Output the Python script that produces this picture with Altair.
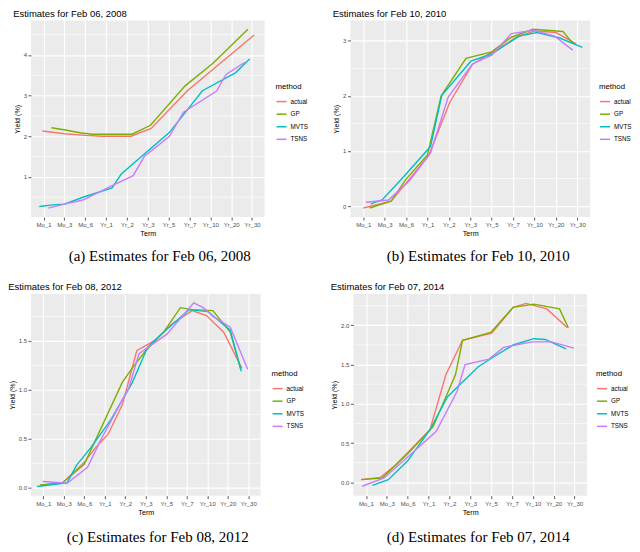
import altair as alt
import pandas as pd

TERMS = ["Mo_1", "Mo_3", "Mo_6", "Yr_1", "Yr_2", "Yr_3", "Yr_5", "Yr_7", "Yr_10", "Yr_20", "Yr_30"]
METHODS = ["actual", "GP", "MVTS", "TSNS"]
COLORS = ["#F8766D", "#7CAE00", "#00BFC4", "#C77CFF"]

TITLES = ["Estimates for Feb 06, 2008", "Estimates for Feb 10, 2010",
          "Estimates for Feb 08, 2012", "Estimates for Feb 07, 2014"]
CAPTIONS = ["(a) Estimates for Feb 06, 2008", "(b) Estimates for Feb 10, 2010",
            "(c) Estimates for Feb 08, 2012", "(d) Estimates for Feb 07, 2014"]

# (term position, yield %)
P1_ACTUAL = [(-0.05, 2.13), (1.0, 2.06), (2.0, 2.02), (2.8, 2.0), (4.2, 2.0), (5.16, 2.19), (6.9, 3.12), (10.1, 4.49)]
P1_GP = [(0.38, 2.21), (0.98, 2.16), (1.81, 2.08), (2.34, 2.05), (4.25, 2.05), (5.13, 2.27), (6.79, 3.24), (8.14, 3.8), (9.8, 4.63)]
P1_MVTS = [(-0.2, 0.27), (0.45, 0.31), (1.0, 0.33), (1.96, 0.51), (3.29, 0.73), (3.73, 1.07), (6.03, 2.09), (7.62, 3.12), (9.2, 3.56), (9.88, 3.9)]
P1_TSNS = [(0.23, 0.23), (1.0, 0.33), (1.89, 0.43), (3.32, 0.79), (4.3, 1.03), (4.83, 1.5), (6.03, 1.99), (6.71, 2.59), (8.3, 3.11), (8.75, 3.52), (9.65, 3.82)]

P2_ACTUAL = [(0.0, -0.035), (1.3, 0.09), (2.2, 0.51), (3.07, 0.93), (4.05, 1.89), (5.1, 2.57), (6.16, 2.83), (7.15, 3.06), (8.0, 3.18), (9.0, 3.15), (9.94, 2.95)]
P2_GP = [(0.3, -0.035), (1.3, 0.09), (2.0, 0.49), (3.0, 0.93), (3.64, 2.0), (4.8, 2.68), (6.0, 2.8), (6.9, 3.06), (7.93, 3.21), (9.33, 3.17), (9.8, 2.95)]
P2_MVTS = [(0.35, 0.04), (0.88, 0.11), (1.93, 0.55), (3.14, 1.08), (3.67, 2.01), (5.03, 2.63), (6.0, 2.76), (7.3, 3.09), (8.13, 3.15), (9.18, 3.05), (10.24, 2.88)]
P2_TSNS = [(0.12, 0.07), (1.18, 0.11), (2.16, 0.46), (3.14, 0.96), (3.97, 1.98), (5.1, 2.58), (6.0, 2.74), (6.92, 3.13), (7.98, 3.19), (8.96, 3.08), (9.79, 2.83)]

P3_ACTUAL = [(-0.15, 0.024), (0.93, 0.05), (2.0, 0.26), (2.55, 0.41), (3.17, 0.55), (3.86, 0.85), (4.56, 1.40), (5.4, 1.5), (6.26, 1.67), (7.26, 1.81), (7.96, 1.76), (8.8, 1.59), (9.69, 1.22)]
P3_GP = [(-0.15, 0.03), (0.93, 0.05), (2.0, 0.24), (3.86, 1.08), (4.4, 1.24), (5.0, 1.40), (5.87, 1.59), (6.69, 1.84), (7.26, 1.82), (8.27, 1.81), (9.12, 1.59), (9.63, 1.21)]
P3_MVTS = [(-0.3, 0.013), (1.16, 0.05), (1.62, 0.23), (2.32, 0.41), (3.25, 0.68), (4.33, 1.07), (5.1, 1.44), (6.03, 1.62), (7.11, 1.82), (8.04, 1.80), (9.12, 1.61), (9.66, 1.19)]
P3_TSNS = [(-0.03, 0.064), (1.16, 0.047), (2.16, 0.21), (2.78, 0.48), (4.17, 1.02), (4.67, 1.37), (6.03, 1.57), (7.34, 1.89), (7.8, 1.84), (8.35, 1.74), (9.12, 1.64), (9.97, 1.21)]

P4_ACTUAL = [(-0.23, 0.034), (0.69, 0.063), (1.38, 0.21), (3.07, 0.67), (3.83, 1.37), (4.63, 1.81), (6.03, 1.90), (7.06, 2.23), (7.67, 2.28), (8.67, 2.21), (9.66, 1.97)]
P4_GP = [(-0.23, 0.034), (0.77, 0.055), (1.99, 0.36), (3.22, 0.71), (4.29, 1.37), (4.63, 1.81), (5.98, 1.91), (7.06, 2.23), (8.05, 2.27), (9.28, 2.21), (9.7, 1.97)]
P4_MVTS = [(0.31, -0.04), (1.07, 0.034), (1.99, 0.27), (3.07, 0.67), (3.91, 1.09), (5.37, 1.47), (6.13, 1.6), (7.06, 1.75), (8.05, 1.83), (8.59, 1.82), (9.59, 1.70)]
P4_TSNS = [(-0.18, -0.05), (0.87, 0.055), (1.99, 0.32), (3.37, 0.65), (4.37, 1.16), (4.75, 1.5), (5.9, 1.57), (6.6, 1.72), (7.98, 1.79), (8.9, 1.79), (9.97, 1.71)]

Y_DOMAINS = [[0.01, 4.85], [-0.2, 3.37], [-0.08, 1.98], [-0.17, 2.4]]
Y_TICKS = [[1, 2, 3, 4], [0, 1, 2, 3], [0, 0.5, 1, 1.5], [0, 0.5, 1, 1.5, 2]]
Y_MINOR = [[0.5, 1.5, 2.5, 3.5, 4.5], [0.5, 1.5, 2.5], [0.25, 0.75, 1.25, 1.75], [0.25, 0.75, 1.25, 1.75, 2.25]]
Y_FORMATS = ["d", "d", ".1f", ".1f"]
WIDTHS = [234, 240, 230, 234]
HEIGHTS = [197, 197, 202, 202]
LEGEND_DY = [-36, -36, -25, -25]
CAPTION_DY = [44, 44, 46, 46]

FONT = "Liberation Sans"
LABEL_EXPR = "[" + ",".join("'%s'" % t for t in TERMS) + "][datum.value]"


def panel(series, k):
    W = WIDTHS[k]
    H = HEIGHTS[k]
    rows = []
    for m, pts in zip(METHODS, series):
        for i, (x, y) in enumerate(pts):
            rows.append({"method": m, "order": i, "pos": x, "yield": y})
    df = pd.DataFrame(rows)
    xscale = alt.Scale(domain=[-0.6, 10.6], nice=False, zero=False)
    yscale = alt.Scale(domain=Y_DOMAINS[k], nice=False, zero=False)
    yaxis = alt.Axis(values=Y_TICKS[k], format=Y_FORMATS[k], title="Yield (%)")

    minor = alt.Chart(pd.DataFrame({"v": Y_MINOR[k]})).mark_rule(
        color="white", strokeWidth=0.6
    ).encode(y=alt.Y("v:Q", scale=yscale, axis=yaxis, title="Yield (%)"))

    lines = alt.Chart(df).mark_line(strokeWidth=1.4, clip=True).encode(
        x=alt.X("pos:Q", scale=xscale,
                axis=alt.Axis(values=list(range(len(TERMS))), labelExpr=LABEL_EXPR,
                              title="Term")),
        y=alt.Y("yield:Q", scale=yscale, axis=yaxis, title="Yield (%)"),
        color=alt.Color("method:N", scale=alt.Scale(domain=METHODS, range=COLORS),
                        legend=alt.Legend(title="method", orient="none",
                                          legendX=W + (11 if k % 2 == 0 else 9),
                                          legendY=H / 2 + LEGEND_DY[k])),
        order="order:Q",
    )

    cap = alt.Chart(pd.DataFrame({"t": [CAPTIONS[k]]})).mark_text(
        font="Liberation Serif", fontSize=15, align="center", baseline="alphabetic", color="black"
    ).encode(x=alt.value(W / 2 + (12 if k % 2 == 0 else 8)), y=alt.value(H + CAPTION_DY[k]), text="t:N")

    return alt.layer(minor, lines, cap).properties(
        width=W, height=H,
        title=alt.TitleParams(TITLES[k], anchor="start", fontSize=9.5, fontWeight="normal",
                              font=FONT, color="black", offset=2),
    )


p1 = panel([P1_ACTUAL, P1_GP, P1_MVTS, P1_TSNS], 0)
p2 = panel([P2_ACTUAL, P2_GP, P2_MVTS, P2_TSNS], 1)
p3 = panel([P3_ACTUAL, P3_GP, P3_MVTS, P3_TSNS], 2)
p4 = panel([P4_ACTUAL, P4_GP, P4_MVTS, P4_TSNS], 3)

row1 = alt.hconcat(p1, p2, spacing=24).resolve_scale(x="independent", y="independent").resolve_legend(color="independent")
row2 = alt.hconcat(p3, p4, spacing=26).resolve_scale(x="independent", y="independent").resolve_legend(color="independent")

chart = alt.vconcat(row1, row2, spacing=18).resolve_scale(
    x="independent", y="independent"
).resolve_legend(color="independent").properties(
    padding=0, background="white"
).configure_view(
    fill="#EBEBEB", stroke=None
).configure_axis(
    domain=False, tickColor="#333333", tickSize=3, tickWidth=0.8,
    labelColor="#4D4D4D", labelFontSize=6, labelFont=FONT, labelPadding=1.5,
    titleFont=FONT, titleFontSize=7.2, titleFontWeight="normal", titleColor="black", titlePadding=2,
    gridColor="white", gridWidth=1.1,
).configure_legend(
    titleFont=FONT, titleFontSize=7.8, titleFontWeight="normal", titleColor="black",
    labelFont=FONT, labelFontSize=6.3, labelColor="black",
    symbolType="stroke", symbolStrokeWidth=1.5, symbolSize=100, rowPadding=2.6, labelOffset=3,
)

chart.save("out.html", embed_options={"renderer": "svg", "actions": False})
